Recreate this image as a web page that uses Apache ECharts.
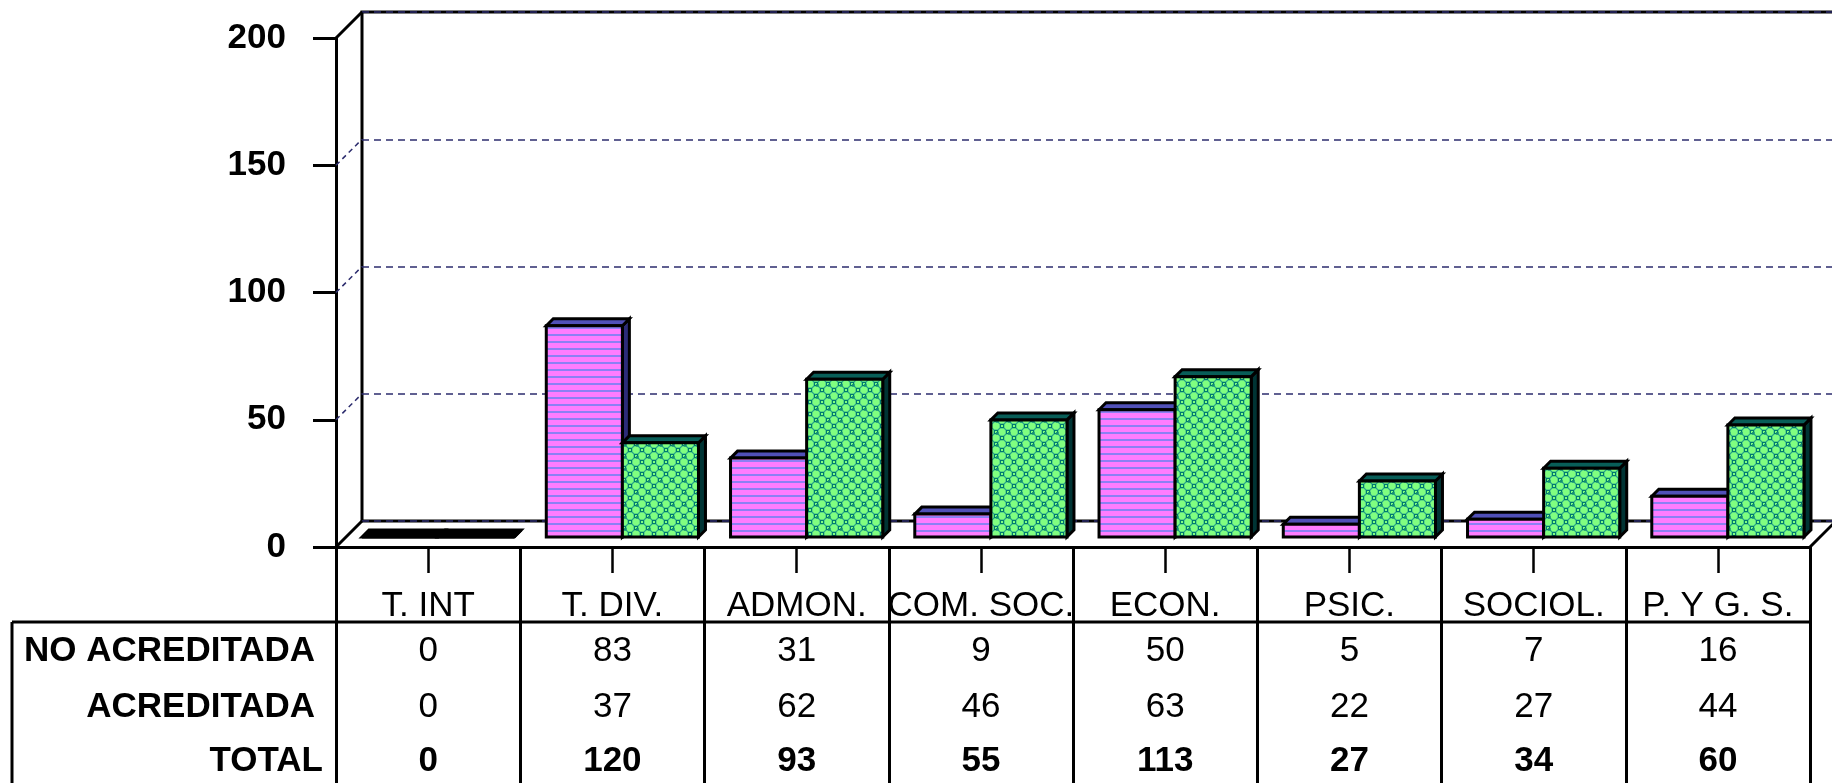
<!DOCTYPE html>
<html>
<head>
<meta charset="utf-8">
<title>Acreditada / No acreditada</title>
<script src="https://cdn.jsdelivr.net/npm/echarts@6/dist/echarts.min.js"></script>
<style>
  html, body { margin: 0; padding: 0; background: #fff; }
  #main { width: 1832px; height: 783px; }
</style>
</head>
<body>
<div id="main"></div>
<script>
// datos de la grafica
const categorias = ['T. INT', 'T. DIV.', 'ADMON.', 'COM. SOC.', 'ECON.', 'PSIC.', 'SOCIOL.', 'P. Y G. S.'];
const noAcreditada = [0, 83, 31, 9, 50, 5, 7, 16];
const acreditada = [0, 37, 62, 46, 63, 22, 27, 44];
const total = [0, 120, 93, 55, 113, 27, 34, 60];
const filas = ['NO ACREDITADA', 'ACREDITADA', 'TOTAL'];
const yMin = 0, yMax = 200, yPaso = 50;

// layout
const FONT = '"Liberation Sans", Arial, sans-serif';
const TAM = 35;       // tamaño de letra
const PROF = 26;      // profundidad del "cuarto" 3D
const BAR = 0.413;    // ancho de cada barra respecto a la categoria
const DESP = 10;      // las barras van un poco hacia el fondo
const FONDO = 7;      // grosor 3D de cada barra

// rellenos con trama
function tramaRosa() {
  const c = document.createElement('canvas');
  c.width = 8; c.height = 7;
  const ctx = c.getContext('2d');
  ctx.fillStyle = '#ff7cff';
  ctx.fillRect(0, 0, 8, 7);
  ctx.fillStyle = '#8c80f4';
  ctx.fillRect(0, 5, 8, 2);
  return c;
}
function tramaVerde() {
  const c = document.createElement('canvas');
  c.width = 12; c.height = 12;
  const ctx = c.getContext('2d');
  ctx.fillStyle = '#80ff80';
  ctx.fillRect(0, 0, 12, 12);
  ctx.strokeStyle = '#22a08a';
  ctx.lineWidth = 1;
  [[6, 0], [0, 6], [12, 6], [6, 12]].forEach(p => {
    ctx.beginPath(); ctx.arc(p[0], p[1], 4.2, 0, Math.PI * 2); ctx.stroke();
  });
  ctx.strokeStyle = '#007a70';
  ctx.strokeRect(0, 0, 2, 2);
  ctx.strokeRect(10.5, 10.5, 2, 2);
  ctx.strokeRect(4.5, 4.5, 3, 3);
  ctx.strokeRect(-1.5, 10.5, 3, 3);
  ctx.strokeRect(10.5, -1.5, 3, 3);
  return c;
}

function pintaBarra(lado, relleno, colorTapa, colorLado) {
  return function (params, api) {
    const i = api.value(0);
    const base = api.coord([i, 0]);
    const tope = api.coord([i, api.value(1)]);
    const w = api.size([1, 0])[0] * BAR;
    const x0 = base[0] + DESP + (lado - 1) * w;
    const x1 = x0 + w;
    const yb = base[1] - DESP, yt = tope[1] - DESP;
    const borde = { stroke: '#000', lineWidth: 3, lineJoin: 'miter' };
    const tapa = (yb - yt) < 1 ? '#000' : colorTapa;
    return {
      type: 'group',
      children: [
        { type: 'polygon', shape: { points: [[x1, yt], [x1 + FONDO, yt - FONDO], [x1 + FONDO, yb - FONDO], [x1, yb]] },
          style: Object.assign({ fill: colorLado }, borde) },
        { type: 'polygon', shape: { points: [[x0, yt], [x0 + FONDO, yt - FONDO], [x1 + FONDO, yt - FONDO], [x1, yt]] },
          style: Object.assign({ fill: tapa }, borde) },
        { type: 'rect', shape: { x: x0, y: yt, width: w, height: yb - yt },
          style: Object.assign({ fill: relleno }, borde) }
      ]
    };
  };
}

function filaEje(valores, margen, negrita) {
  return {
    type: 'category', gridIndex: 0, position: 'bottom', data: categorias,
    axisLine: { show: false }, axisTick: { show: false }, splitLine: { show: false },
    axisLabel: {
      interval: 0, margin: margen, color: '#000', fontFamily: FONT, fontSize: TAM,
      fontWeight: negrita ? 'bold' : 'normal',
      formatter: (v, idx) => String(valores[idx])
    }
  };
}

const chart = echarts.init(document.getElementById('main'));

const option = {
  animation: false,
  backgroundColor: '#fff',
  grid: [
    { left: 336, top: 38, width: 1474, height: 509, outerBoundsMode: 'none', containLabel: false },
    { left: 336 + PROF, top: 38 - PROF, width: 1480, height: 509, outerBoundsMode: 'none', containLabel: false,
      show: true, borderColor: '#000', borderWidth: 3, backgroundColor: 'transparent' }
  ],
  xAxis: [
    {
      type: 'category', gridIndex: 0, position: 'bottom', data: categorias,
      axisLine: { show: true, lineStyle: { color: '#000', width: 3 } },
      axisTick: { show: true, alignWithLabel: true, interval: 0, length: 26, lineStyle: { color: '#000', width: 2.5 } },
      splitLine: { show: false },
      axisLabel: { interval: 0, margin: 42, color: '#000', fontFamily: FONT, fontSize: TAM }
    },
    filaEje(noAcreditada, 87, false),
    filaEje(acreditada, 143, false),
    filaEje(total, 197, true),
    {
      // lineas verticales de la tabla
      type: 'category', gridIndex: 0, position: 'bottom', data: categorias,
      axisLine: { show: false }, axisLabel: { show: false }, splitLine: { show: false },
      axisTick: { show: true, alignWithLabel: false, interval: 0, length: 240, lineStyle: { color: '#000', width: 3 } }
    },
    { type: 'category', gridIndex: 1, data: categorias, show: false }
  ],
  yAxis: [
    {
      type: 'value', gridIndex: 0, min: yMin, max: yMax, interval: yPaso,
      axisLine: { show: true, lineStyle: { color: '#000', width: 3 } },
      axisTick: { show: true, length: 23, lineStyle: { color: '#000', width: 3 } },
      splitLine: { show: false },
      axisLabel: { margin: 50, padding: [5, 0, 0, 0], color: '#000', fontFamily: FONT, fontSize: TAM, fontWeight: 'bold' }
    },
    {
      type: 'value', gridIndex: 1, min: yMin, max: yMax, interval: yPaso,
      axisLine: { show: false }, axisTick: { show: false }, axisLabel: { show: false },
      splitLine: { show: true, lineStyle: { color: '#2d2d6e', width: 1.5, type: [7, 5] } }
    }
  ],
  series: [
    {
      name: 'NO ACREDITADA', type: 'custom', xAxisIndex: 0, yAxisIndex: 0, z: 3, silent: true,
      renderItem: pintaBarra(0, { image: tramaRosa(), repeat: 'repeat' }, '#5050b8', '#2c2c78'),
      encode: { x: 0, y: 1 },
      data: noAcreditada.map((v, i) => [i, v])
    },
    {
      name: 'ACREDITADA', type: 'custom', xAxisIndex: 0, yAxisIndex: 0, z: 4, silent: true,
      renderItem: pintaBarra(1, { image: tramaVerde(), repeat: 'repeat' }, '#085e58', '#003434'),
      encode: { x: 0, y: 1 },
      data: acreditada.map((v, i) => [i, v])
    }
  ]
};
chart.setOption(option);

// lineas del cuarto 3D y de la tabla
const frente = v => chart.convertToPixel({ yAxisIndex: 0 }, v);
const fondo = v => chart.convertToPixel({ yAxisIndex: 1 }, v);
const c0 = chart.convertToPixel({ xAxisIndex: 0 }, 0);
const c1 = chart.convertToPixel({ xAxisIndex: 0 }, 1);
const banda = c1 - c0;
const xIzq = c0 - banda / 2;
const xDer = chart.convertToPixel({ xAxisIndex: 0 }, categorias.length - 1) + banda / 2;

const graficos = [];
for (let v = yMin; v <= yMax; v += yPaso) {
  const solida = (v === yMin || v === yMax);
  graficos.push({
    type: 'line', z: 5,
    shape: { x1: xIzq, y1: frente(v), x2: xIzq + PROF, y2: fondo(v) },
    style: solida ? { stroke: '#000', lineWidth: 3 } : { stroke: '#2d2d6e', lineWidth: 1.5, lineDash: [5, 4] }
  });
}
graficos.push({
  type: 'line', z: 5,
  shape: { x1: xDer, y1: frente(0), x2: xDer + PROF, y2: fondo(0) },
  style: { stroke: '#000', lineWidth: 3 }
});

const yTabla = 622;
graficos.push({ type: 'line', z: 5, shape: { x1: 12, y1: yTabla, x2: xDer, y2: yTabla }, style: { stroke: '#000', lineWidth: 3 } });
graficos.push({ type: 'line', z: 5, shape: { x1: 12, y1: yTabla, x2: 12, y2: 800 }, style: { stroke: '#000', lineWidth: 3 } });

const yFilas = [651, 707, 761];
const xFilas = [315, 315, 323];
filas.forEach((t, k) => {
  graficos.push({
    type: 'text', z: 5,
    style: {
      text: t, x: xFilas[k], y: yFilas[k], fill: '#000',
      font: 'bold ' + TAM + 'px ' + FONT,
      align: 'right', verticalAlign: 'middle', textAlign: 'right', textVerticalAlign: 'middle'
    }
  });
});
chart.setOption({ graphic: graficos });
</script>
</body>
</html>
